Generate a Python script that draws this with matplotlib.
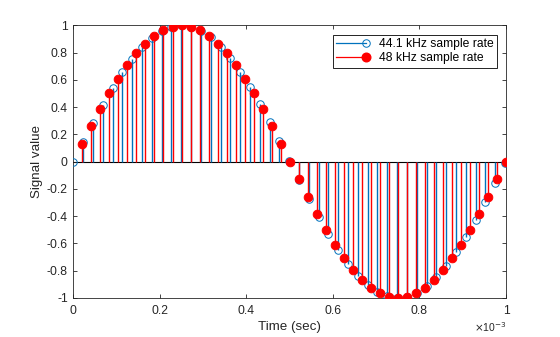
import numpy as np
import matplotlib
matplotlib.use("Agg")
import matplotlib.pyplot as plt
from matplotlib.lines import Line2D
from matplotlib.legend_handler import HandlerLine2D
from matplotlib.ticker import FuncFormatter, MultipleLocator

# 44.1 kHz samples (time in ms, value)
t_441 = [0.0000, 0.0227, 0.0454, 0.0680, 0.0907, 0.1134, 0.1361, 0.1587, 0.1814,
         0.2041, 0.2268, 0.2494, 0.2721, 0.2948, 0.3175, 0.3401, 0.3628, 0.3855,
         0.4082, 0.4308, 0.4535, 0.4762, 0.4989, 0.5215, 0.5442, 0.5669, 0.5896,
         0.6122, 0.6349, 0.6576, 0.6803, 0.7029, 0.7256, 0.7483, 0.7710, 0.7937,
         0.8163, 0.8390, 0.8617, 0.8844, 0.9070, 0.9297, 0.9524, 0.9751, 0.9977]
y_441 = [0.000, 0.142, 0.281, 0.415, 0.540, 0.654, 0.755, 0.840, 0.909,
         0.959, 0.989, 1.000, 0.990, 0.961, 0.911, 0.844, 0.759, 0.659,
         0.546, 0.421, 0.288, 0.149, 0.007, -0.135, -0.274, -0.408, -0.534,
         -0.648, -0.750, -0.836, -0.906, -0.957, -0.988, -1.000, -0.991, -0.963,
         -0.914, -0.848, -0.764, -0.664, -0.552, -0.427, -0.295, -0.156, -0.014]

# 48 kHz samples (time in ms, value)
t_48 = [0.0208, 0.0417, 0.0625, 0.0833, 0.1042, 0.1250, 0.1458, 0.1667, 0.1875,
        0.2083, 0.2292, 0.2500, 0.2708, 0.2917, 0.3125, 0.3333, 0.3542, 0.3750,
        0.3958, 0.4167, 0.4375, 0.4583, 0.4792, 0.5000, 0.5208, 0.5417, 0.5625,
        0.5833, 0.6042, 0.6250, 0.6458, 0.6667, 0.6875, 0.7083, 0.7292, 0.7500,
        0.7708, 0.7917, 0.8125, 0.8333, 0.8542, 0.8750, 0.8958, 0.9167, 0.9375,
        0.9583, 0.9792, 1.0000]
y_48 = [0.131, 0.259, 0.383, 0.500, 0.609, 0.707, 0.793, 0.866, 0.924,
        0.966, 0.991, 1.000, 0.991, 0.966, 0.924, 0.866, 0.793, 0.707,
        0.609, 0.500, 0.383, 0.259, 0.131, 0.000, -0.131, -0.259, -0.383,
        -0.500, -0.609, -0.707, -0.793, -0.866, -0.924, -0.966, -0.991, -1.000,
        -0.991, -0.966, -0.924, -0.866, -0.793, -0.707, -0.609, -0.500, -0.383,
        -0.259, -0.131, -0.000]

labels = ["44.1 kHz sample rate", "48 kHz sample rate"]
blue = "#0072BD"
red = "#FF0000"
txt = "#262626"

plt.rcParams["font.family"] = ["Liberation Sans", "DejaVu Sans"]

fig = plt.figure(figsize=(5.6, 3.37), dpi=100)
ax = fig.add_axes([0.131, 0.116, 0.7726, 0.809])

ax.axhline(0, color="k", lw=0.8, zorder=1)

ax.vlines(t_441, 0, y_441, color=blue, lw=1.0, zorder=2)
ax.plot(t_441, y_441, ls="none", marker="o", ms=5.4, mfc="none",
        mec=blue, mew=0.7, zorder=3)
ax.vlines(t_48, 0, y_48, color=red, lw=1.0, zorder=4)
ax.plot(t_48, y_48, ls="none", marker="o", ms=6.2, mfc=red,
        mec=red, mew=0.7, zorder=5)

ax.set_xlim(0, 1)
ax.set_ylim(-1, 1)
ax.xaxis.set_major_locator(MultipleLocator(0.2))
ax.yaxis.set_major_locator(MultipleLocator(0.2))
fmt = FuncFormatter(lambda v, p: ("%.1f" % v).rstrip("0").rstrip(".") if abs(v) > 1e-9 else "0")
ax.xaxis.set_major_formatter(fmt)
ax.yaxis.set_major_formatter(fmt)

ax.tick_params(direction="in", length=3, width=0.6, colors=txt,
               labelsize=8.7, top=True, right=True)
ax.tick_params(axis="x", pad=5)
ax.tick_params(axis="y", pad=4)
for s in ax.spines.values():
    s.set_color(txt)
    s.set_linewidth(0.6)

ax.set_xlabel("Time (sec)", fontsize=9.6, color=txt, labelpad=3)
ax.set_ylabel("Signal value", fontsize=9.6, color=txt, labelpad=3)
ax.text(1.0, -0.08, r"$\times$10$^{-3}$", transform=ax.transAxes,
        ha="right", va="top", fontsize=7.5, color=txt)


class StemHandler(HandlerLine2D):
    def create_artists(self, *args, **kwargs):
        arts = super().create_artists(*args, **kwargs)
        arts[0].set_markevery([2])
        return arts


h1 = Line2D([], [], color=blue, lw=0.9, marker="o", ms=5.4, mfc="none", mec=blue, mew=0.7)
h2 = Line2D([], [], color=red, lw=0.9, marker="o", ms=6.2, mfc=red, mec=red)
leg = ax.legend([h1, h2], labels, loc="upper right", bbox_to_anchor=(0.979, 0.965),
                borderaxespad=0, fontsize=8.7, numpoints=1, handlelength=2.5,
                handletextpad=1.0, borderpad=0.3, labelspacing=0.15,
                handleheight=0.6, fancybox=False, framealpha=1, edgecolor="k",
                handler_map={Line2D: StemHandler()})
leg.get_frame().set_linewidth(0.6)

fig.savefig("out.png", dpi=100)
